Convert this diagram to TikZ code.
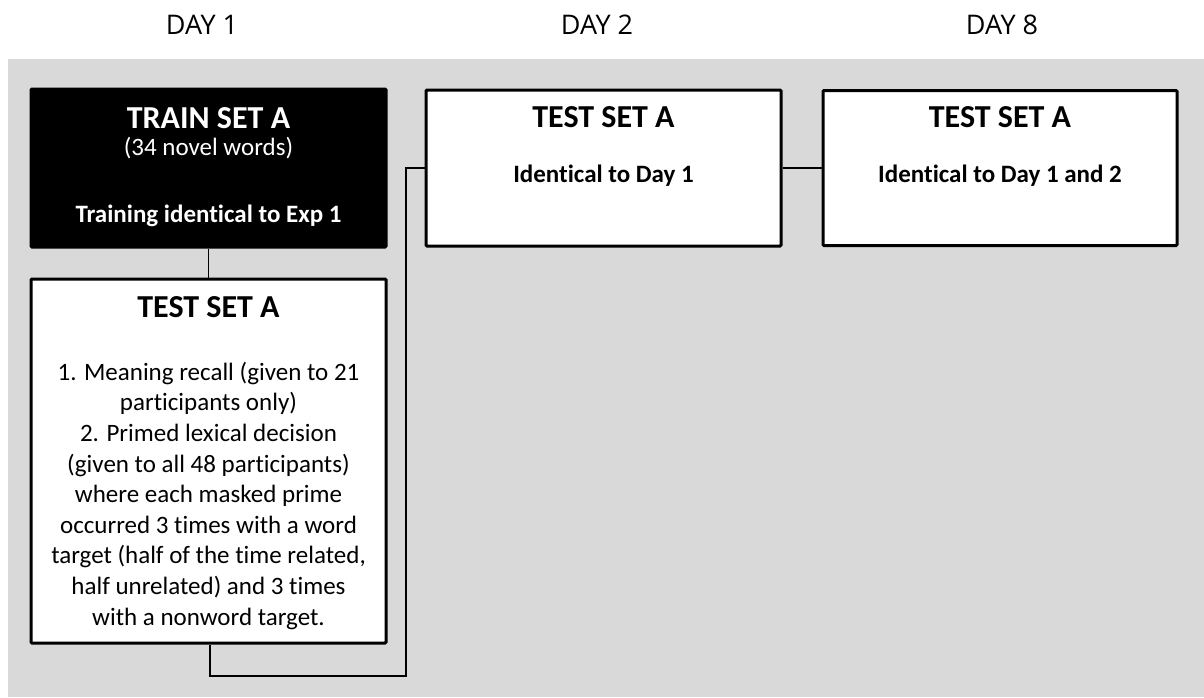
\documentclass[tikz,border=0pt]{standalone}
\usepackage{fontspec}
\setmainfont[Ligatures=CommonOff]{Carlito}
\newfontfamily\dayfont{Open Sans}
\definecolor{bggray}{HTML}{D9D9D9}
\tikzset{
  box/.style={draw=black, line width=3pt, fill=white, rounded corners=1pt, inner sep=0pt},
  darkbox/.style={box, fill=black},
  link/.style={draw=black, line width=1.6pt},
  title/.style={inner sep=0pt, anchor=base, font=\fontsize{32}{38}\selectfont\bfseries},
  bodytext/.style={inner sep=0pt, anchor=base, align=center, font=\fontsize{25}{30.6}\selectfont},
  daylabel/.style={inner sep=0pt, anchor=base, font=\fontsize{27}{32}\selectfont\dayfont},
}
\begin{document}
\begin{tikzpicture}[x=1pt,y=-1pt]
\useasboundingbox (0,0) rectangle (1204,697);
\fill[bggray] (8,59) rectangle (1204,697);

\node[daylabel] (d1) at (202,34) {DAY 1};
\node[daylabel] (d2) at (597,34) {DAY 2};
\node[daylabel] (d8) at (1002,34) {DAY 8};

\node[darkbox, minimum width=355pt, minimum height=158pt] (train) at (208.5,168) {};
\node[box, minimum width=355pt, minimum height=364pt] (test1) at (208.5,461) {};
\node[box, minimum width=355pt, minimum height=156pt] (test2) at (603.5,168) {};
\node[box, minimum width=354pt, minimum height=155pt] (test8) at (1000,168) {};

\node[title, text=white] (trainT) at (208.5,128) {TRAIN SET A};
\node[bodytext, text=white] (trainN) at (208.5,155) {(34 novel words)};
\node[bodytext, text=white, font=\fontsize{25}{30.6}\selectfont\bfseries] (trainB) at (208.5,222) {Training identical to Exp 1};

\node[title] (test1T) at (208.5,317) {TEST SET A};
% base anchor of a multi-line node is the last line's baseline
\node[bodytext] (test1B) at (208.5,625) {1. Meaning recall (given to 21\\participants only)\\2. Primed lexical decision\\(given to all 48 participants)\\where each masked prime\\occurred 3 times with a word\\target (half of the time related,\\half unrelated) and 3 times\\with a nonword target.};

\node[title] (test2T) at (603.5,127) {TEST SET A};
\node[bodytext, font=\fontsize{25}{30.6}\selectfont\bfseries] (test2B) at (603.5,182) {Identical to Day 1};

\node[title] (test8T) at (1000,127) {TEST SET A};
\node[bodytext, font=\fontsize{25}{30.6}\selectfont\bfseries] (test8B) at (1000,182) {Identical to Day 1 and 2};

\coordinate (turn) at (406,676);
\draw[link] (train.south) -- (test1.south |- test1.north);
\draw[link] ([xshift=1.5pt]test1.south) |- (turn) |- (test2.west);
\draw[link] (test2.east) -- (test8.west);
\end{tikzpicture}
\end{document}
